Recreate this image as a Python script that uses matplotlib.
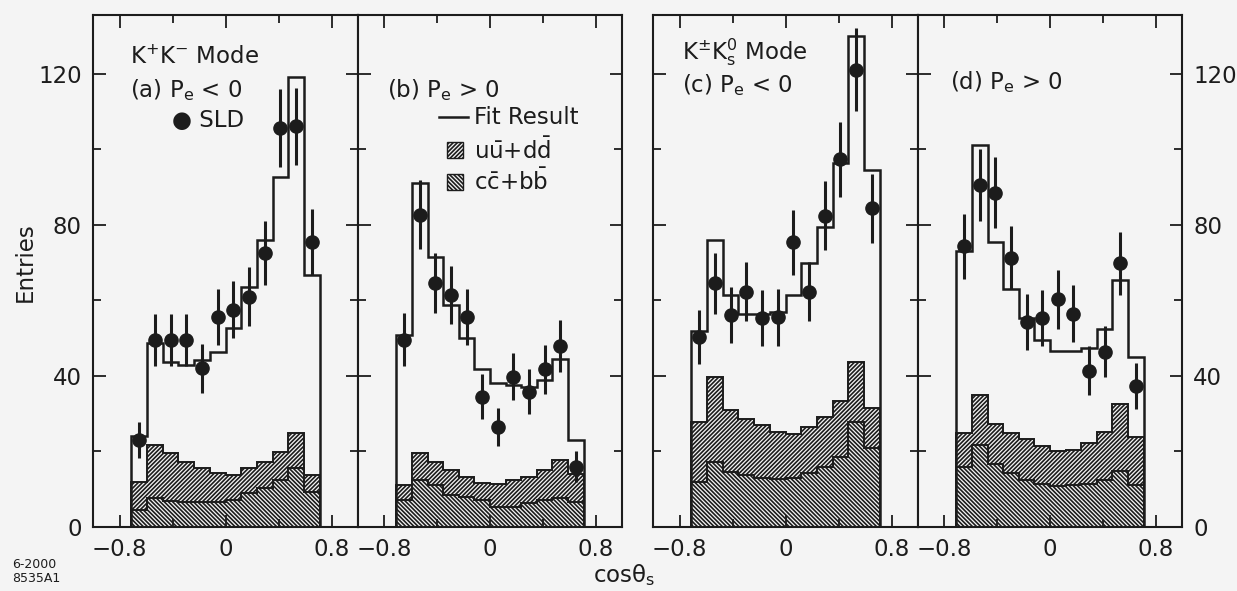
import numpy as np
import matplotlib
matplotlib.use("Agg")
import matplotlib.pyplot as plt
from matplotlib.patches import Rectangle

plt.rcParams['font.family'] = ['DejaVu Sans']
plt.rcParams['mathtext.default'] = 'regular'
plt.rcParams['hatch.linewidth'] = 1.2

# 12 bins in cos(theta_s)
edges = np.linspace(-0.71, 0.71, 13)
centers = 0.5 * (edges[1:] + edges[:-1])

# (a) K+K- mode, Pe < 0
a_data = [23, 49.5, 49.5, 49.5, 42, 55.5, 57.5, 61, 72.5, 105.5, 106, 75.5]
a_err = [4.8, 7.0, 7.0, 7.0, 6.5, 7.4, 7.6, 7.8, 8.5, 10.3, 10.3, 8.7]
a_fit = [24, 48.7, 43.7, 42.9, 44.2, 46.4, 52.6, 63.6, 75.9, 92.7, 119, 66.7]
a_bg = [12, 21.7, 19.5, 17.3, 15.5, 14.4, 13.8, 15.5, 17.3, 19.9, 24.8, 13.8]
a_cb = [4.5, 7.6, 7.0, 6.7, 6.7, 6.7, 7.1, 8.9, 10.2, 12.4, 15.5, 9.3]

# (b) K+K- mode, Pe > 0
b_data = [49.6, 82.7, 64.6, 61.4, 55.6, 34.5, 26.5, 39.8, 35.8, 41.7, 47.9, 16]
b_err = [7.0, 9.1, 8.0, 7.8, 7.5, 5.9, 5.1, 6.3, 6.0, 6.5, 6.9, 4.0]
b_fit = [50.8, 91.1, 71.5, 58.7, 49.9, 41.7, 38, 37.6, 37.1, 38.9, 44.4, 23]
b_bg = [11, 19.5, 17.3, 15.1, 13.3, 11.7, 11.4, 12.4, 13.3, 15.1, 17.7, 14]
b_cb = [7.1, 12.4, 11.1, 8.5, 8.0, 7.1, 5.4, 5.4, 6.3, 7.1, 7.6, 6.7]

# (c) K+-K0s mode, Pe < 0
c_data = [50.3, 64.5, 56.1, 62.3, 55.2, 55.5, 75.3, 62.3, 82.4, 97.3, 121, 84.3]
c_err = [7.1, 8.0, 7.5, 7.9, 7.4, 7.5, 8.7, 7.9, 9.1, 9.9, 11.0, 9.2]
c_fit = [52, 76, 61.4, 56.5, 56.5, 57, 61.4, 69.8, 79.4, 96.2, 130, 94.4]
c_bg = [27.9, 39.8, 31, 28.7, 27, 25.2, 24.6, 26.5, 29, 33.4, 43.7, 31.4]
c_cb = [12, 17.3, 14.6, 13.8, 13, 12.7, 12.9, 14.2, 16, 18.6, 27.9, 20.8]

# (d) K+-K0s mode, Pe > 0
d_data = [74.3, 90.5, 88.4, 71.3, 54.3, 55.2, 60.3, 56.5, 41.4, 46.4, 69.8, 37.3]
d_err = [8.6, 9.5, 9.4, 8.4, 7.4, 7.4, 7.8, 7.5, 6.4, 6.8, 8.4, 6.1]
d_fit = [73.1, 101, 75.5, 62.9, 55.2, 49.6, 46.6, 46.6, 47.5, 52.3, 65.3, 45]
d_bg = [24.8, 34.9, 27.2, 24.8, 23.2, 21.4, 20.2, 20.5, 22.1, 25.2, 32.5, 23.9]
d_cb = [16, 21.7, 16.8, 14.2, 12.4, 11.4, 10.8, 11.1, 11.4, 12.4, 14.9, 11.1]

BG = '#f4f4f4'
INK = '#1c1c1c'
FS = 16.5
HATCH_UD = '////////'
HATCH_CB = '\\' * 8

fig = plt.figure(figsize=(12.37, 5.91), dpi=100, facecolor=BG)
W, H = 1237, 591
lefts = [93, 358, 653, 918]
widths = [265, 264, 265, 264]
panels = [(a_data, a_err, a_fit, a_bg, a_cb),
          (b_data, b_err, b_fit, b_bg, b_cb),
          (c_data, c_err, c_fit, c_bg, c_cb),
          (d_data, d_err, d_fit, d_bg, d_cb)]
axes = []
for i, (l, w) in enumerate(zip(lefts, widths)):
    ax = fig.add_axes([l / W, 1 - 527 / H, w / W, 512 / H], facecolor=BG)
    data, err, fit, bg, cb = panels[i]
    ax.stairs(bg, edges, baseline=0, fill=True, facecolor=BG, edgecolor=INK,
              hatch=HATCH_UD, lw=1.4)
    ax.stairs(cb, edges, baseline=0, fill=True, facecolor=BG, edgecolor=INK,
              hatch=HATCH_CB, lw=1.4)
    ax.stairs(fit, edges, baseline=0, color=INK, lw=1.8)
    ax.errorbar(centers, data, yerr=err, fmt='o', color=INK, ms=9.5,
                elinewidth=2.2, capsize=0)
    ax.set_xlim(-1, 1)
    ax.set_ylim(0, 135.5)
    ax.set_xticks([-0.8, 0, 0.8])
    ax.set_xticklabels(['\u22120.8', '0', '0.8'])
    ax.set_xticks([-0.4, 0.4], minor=True)
    ax.set_yticks([0, 40, 80, 120])
    ax.set_yticks([20, 60, 100], minor=True)
    ax.tick_params(which='both', direction='in', top=True, right=True,
                   width=1.3, colors=INK, labelsize=FS, labelleft=(i == 0),
                   labelright=(i == 3), pad=8)
    ax.tick_params(which='major', length=9)
    ax.tick_params(which='minor', length=6)
    for s in ax.spines.values():
        s.set_linewidth(1.5)
        s.set_color(INK)
    axes.append(ax)

ax_a, ax_b, ax_c, ax_d = axes
kw = dict(fontsize=FS, color=INK, va='center', ha='left')
ax_a.text(-0.72, 124.3, 'K$^{+}$K$^{-}$ Mode', **kw)
ax_a.text(-0.72, 115.6, '(a) P$_{e}$ < 0', **kw)
ax_a.text(-0.40, 107.7, '\u25cf SLD', **kw)

ax_b.text(-0.78, 115.6, '(b) P$_{e}$ > 0', **kw)
ax_b.plot([-0.39, -0.17], [108.5, 108.5], color=INK, lw=1.8)
ax_b.text(-0.12, 108.5, 'Fit Result', **kw)
ax_b.add_patch(Rectangle((-0.325, 97.6), 0.12, 4.2, facecolor=BG,
                         edgecolor=INK, hatch=HATCH_UD, lw=1.0))
ax_b.text(-0.12, 99.7, r'$u\bar{u}$+$d\bar{d}$', **kw)
ax_b.add_patch(Rectangle((-0.325, 89.2), 0.12, 4.2, facecolor=BG,
                         edgecolor=INK, hatch=HATCH_CB, lw=1.0))
ax_b.text(-0.12, 91.3, r'$c\bar{c}$+$b\bar{b}$', **kw)

ax_c.text(-0.78, 125.7, 'K$^{\\pm}$K$_{s}^{0}$ Mode', **kw)
ax_c.text(-0.78, 117, '(c) P$_{e}$ < 0', **kw)
ax_d.text(-0.76, 117.7, '(d) P$_{e}$ > 0', **kw)

fig.text(25 / W, 1 - 262 / H, 'Entries', rotation=90, fontsize=FS,
         color=INK, ha='center', va='center')
fig.text(624 / W, 1 - 575 / H, 'cos\u03b8$_{s}$', fontsize=FS, color=INK,
         ha='center', va='center')
fig.text(12 / W, 1 - 565 / H, '6-2000', fontsize=9, color=INK, va='center')
fig.text(12 / W, 1 - 578 / H, '8535A1', fontsize=9, color=INK, va='center')

fig.savefig('out.png', dpi=100, facecolor=BG)
